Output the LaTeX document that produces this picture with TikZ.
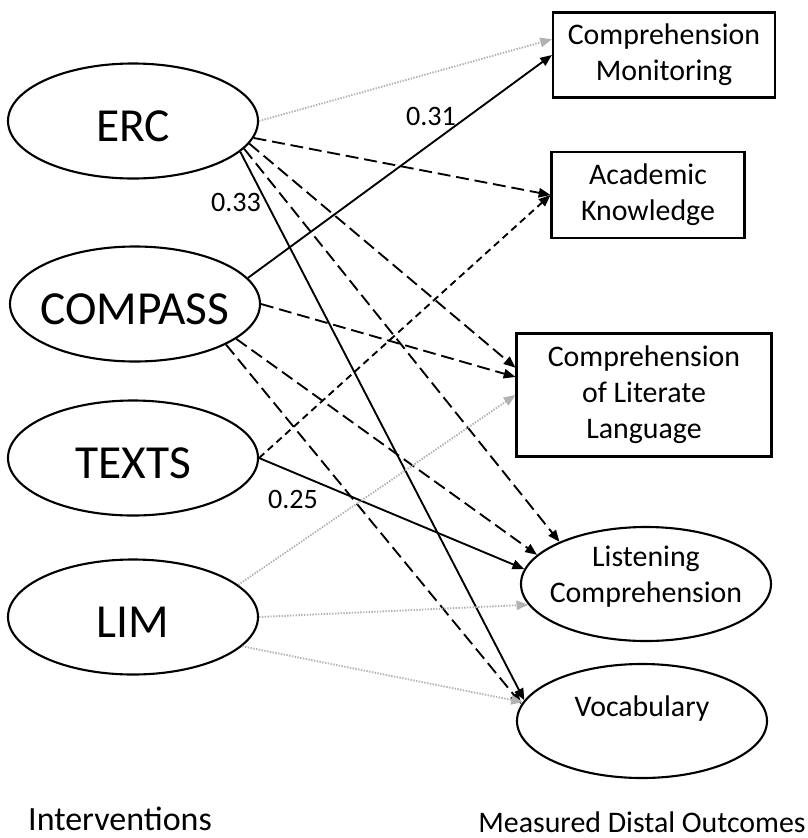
\documentclass[tikz,border=0pt]{standalone}
\usepackage{fontspec}
\setmainfont{Carlito}
\usetikzlibrary{arrows.meta,shapes.geometric}

\begin{document}
\begin{tikzpicture}[x=0.03cm,y=-0.03cm,
	iv/.style={draw,ellipse,line width=1.8pt,minimum width=7.5cm,minimum height=3.45cm,inner xsep=-0.8cm,inner ysep=0pt,text height=35pt,text depth=0pt,font=\fontsize{40.5}{48}\selectfont},
	outbox/.style={draw,rectangle,line width=1.8pt,inner sep=0pt,align=center,font=\fontsize{25.5}{30.8}\selectfont},
	outoval/.style={draw,ellipse,line width=1.8pt,minimum width=7.5cm,minimum height=3.42cm,inner xsep=-0.8cm,inner ysep=0pt,align=center,font=\fontsize{25.5}{30.8}\selectfont},
	wt/.style={font=\fontsize{24}{28}\selectfont},
	foot/.style={font=\fontsize{25.5}{30}\selectfont},
	sig/.style={-{Triangle[length=10pt,width=8pt]},line width=1.6pt},
	ns/.style={sig,dash pattern=on 11pt off 5pt},
	nsshort/.style={sig,dash pattern=on 6pt off 4pt},
	faint/.style={sig,draw=black!30,dash pattern=on 1.2pt off 1.2pt}]
	\useasboundingbox (0,0) rectangle (807,838);

	\node[iv] (erc) at (133,121) {ERC};
	\node[iv] (comp) at (135,304) {COMPASS};
	\node[iv] (texts) at (133,458) {TEXTS};
	\node[iv] (lim) at (133,617) {LIM};

	\node[outbox,minimum width=6.66cm,minimum height=2.55cm] (cm) at (664,55) {Comprehension\\Monitoring};
	\node[outbox,minimum width=5.79cm,minimum height=2.58cm] (ak) at (648,195) {Academic\\Knowledge};
	\node[outbox,minimum width=7.65cm,minimum height=3.69cm] (cll) at (644,395) {Comprehension\\of Literate\\Language};
	\node[outoval,text height=45pt,text depth=13pt] (lc) at (646,584) {Listening\\Comprehension};
	\node[outoval,text height=19pt,text depth=27pt] (voc) at (642,721) {Vocabulary};

	\foreach \from/\to in {comp.13/cm.west,erc.344/voc.170,texts.east/lc.173}
		\draw[sig] (\from) -- (\to);
	\foreach \from/\to in {erc.352/ak.west,erc.349/cll.168,erc.346/lc.154,comp.east/cll.172,comp.341/lc.165,comp.336/voc.172}
		\draw[ns] (\from) -- (\to);
	\draw[nsshort] (texts.east) -- (ak.west);
	\foreach \from/\to in {erc.east/cm.172,lim.17/cll.west,lim.east/lc.190,lim.345/voc.171}
		\draw[faint] (\from) -- (\to);

	\node[wt] (w31) at (431,116) {0.31};
	\node[wt] (w33) at (236,202) {0.33};
	\node[wt] (w25) at (293,499) {0.25};

	\node[foot,font=\fontsize{29}{33}\selectfont] (ivlab) at (120,819) {Interventions};
	\node[foot] (outlab) at (642,822) {Measured Distal Outcomes};
\end{tikzpicture}
\end{document}
